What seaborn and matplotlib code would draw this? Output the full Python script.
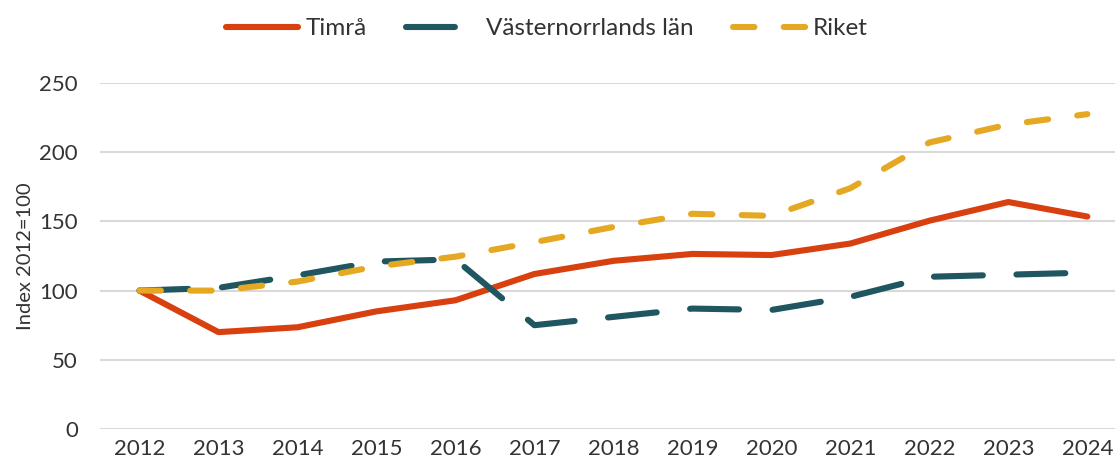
import seaborn as sns
import matplotlib.pyplot as plt
import pandas as pd

years = list(range(2012, 2025))
timra = [100, 70, 73.5, 85, 93, 112, 121.5, 126.5, 125.7, 134, 150.5, 164, 153.5]
vasternorrland = [100, 102, 111, 121, 122.5, 75, 81, 87, 86, 95.5, 110, 111.5, 113]
riket = [100, 100, 106.5, 117.5, 124.5, 135, 146, 155.5, 154, 174, 207, 220, 227.5]

series = ['Timrå', 'Västernorrlands län', 'Riket']
colors = ['#D9400F', '#1F5660', '#E5A823']

df = pd.DataFrame({'year': years * 3,
                   'value': timra + vasternorrland + riket,
                   'serie': [s for s in series for _ in years]})

sns.set_style('white')
plt.rcParams['font.family'] = ['Lato', 'DejaVu Sans']

fig = plt.figure(figsize=(11.15, 4.7), dpi=100)
ax = fig.add_axes([100/1115, 41/470, 1 - 100/1115, 346/470])

dashes = {'Timrå': '', 'Västernorrlands län': (8, 5.5), 'Riket': (3.5, 4.8)}
sns.lineplot(data=df, x='year', y='value', hue='serie', style='serie',
             palette=colors, dashes=dashes, linewidth=4.4, ax=ax)
for line in ax.get_lines():
    line.set_dash_capstyle('round')
    line.set_solid_capstyle('round')

ax.set_ylim(0, 250)
ax.set_xlim(2011.5, 2024.35)
ax.set_yticks(range(0, 251, 50))
ax.set_xticks(years)
ax.grid(axis='y', color='#D9D9D9', linewidth=1.5)
ax.set_axisbelow(True)
for s in ax.spines.values():
    s.set_visible(False)
ax.tick_params(axis='both', length=0, labelsize=16, labelcolor='#333333', pad=7)
ax.tick_params(axis='y', pad=16)
ax.set_xlabel('')
ax.set_ylabel('Index 2012=100', fontsize=14.5, color='#333333', labelpad=4)

leg = ax.legend(loc='upper center', bbox_to_anchor=(0.44, 1.25), ncol=3,
                frameon=False, fontsize=17.5, handlelength=3.0, columnspacing=1.6,
                handletextpad=0.3)
for t in leg.get_texts():
    t.set_color('#333333')
for h in leg.get_lines():
    h.set_dash_capstyle('round')
    h.set_solid_capstyle('round')

fig.savefig('out.png', dpi=100)
